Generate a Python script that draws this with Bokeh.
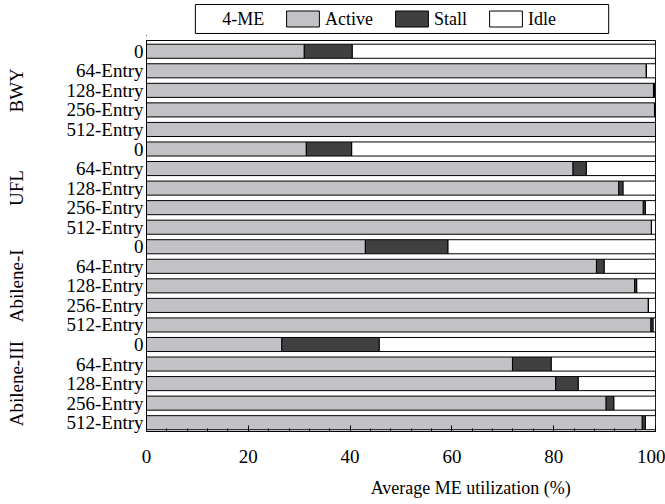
from bokeh.plotting import figure
from bokeh.models import (ColumnDataSource, Legend, LegendItem, LinearAxis,
                          SingleIntervalTicker, FixedTicker, Range1d)
from bokeh.layouts import column
from bokeh.core.properties import value
from bokeh.embed import file_html
from bokeh.resources import INLINE

groups = ["BWY", "UFL", "Abilene-I", "Abilene-III"]
configs = ["0", "64-Entry", "128-Entry", "256-Entry", "512-Entry"]

bwy_active = [31.0, 98.2, 99.6, 99.8, 100.0]
bwy_stall = [9.4, 0.0, 0.2, 0.2, 0.0]
ufl_active = [31.4, 83.8, 92.8, 97.6, 99.2]
ufl_stall = [8.9, 2.6, 0.8, 0.4, 0.0]
ab1_active = [43.0, 88.4, 95.9, 98.6, 99.1]
ab1_stall = [16.2, 1.5, 0.4, 0.0, 0.4]
ab3_active = [26.6, 71.9, 80.4, 90.3, 97.4]
ab3_stall = [19.1, 7.6, 4.4, 1.5, 0.6]

x_label = "Average ME utilization (%)"
legend_title = "4-ME"
series_names = ["Active", "Stall", "Idle"]

FONT = "Liberation Serif"
ACTIVE_C = "#c2c1c6"
STALL_C = "#404040"
IDLE_C = "#ffffff"

actives = [bwy_active, ufl_active, ab1_active, ab3_active]
stalls = [bwy_stall, ufl_stall, ab1_stall, ab3_stall]

n_rows = len(groups) * len(configs)
ys, a_r, s_l, s_r, labels = [], [], [], [], []
for gi in range(len(groups)):
    for ci in range(len(configs)):
        y = n_rows - 1 - (gi * len(configs) + ci)
        ys.append(y)
        a = actives[gi][ci]
        s = stalls[gi][ci]
        a_r.append(a)
        s_l.append(a)
        s_r.append(min(100.0, a + s))
        labels.append(configs[ci])

src = ColumnDataSource(dict(y=ys, zero=[0] * len(ys), a_r=a_r, s_l=s_l,
                            s_r=s_r, full=[100] * len(ys)))

LEFT_B = 146
RIGHT_B = 10

# ---------------- main chart ----------------
x_range = Range1d(0, 100)
p = figure(width=665, height=467, output_backend="svg", toolbar_location=None,
           x_range=x_range, y_range=Range1d(-0.45, n_rows - 0.45),
           min_border_left=LEFT_B, min_border_right=RIGHT_B,
           min_border_bottom=73, min_border_top=3)

BH = 0.72
r_idle = p.hbar(y="y", left="s_r", right="full", height=BH, source=src,
                fill_color=IDLE_C, line_color="black", line_width=1)
r_act = p.hbar(y="y", left="zero", right="a_r", height=BH, source=src,
               fill_color=ACTIVE_C, line_color="black", line_width=1)
r_stall = p.hbar(y="y", left="s_l", right="s_r", height=BH, source=src,
                 fill_color=STALL_C, line_color="black", line_width=1)

p.grid.visible = False
p.outline_line_color = "black"
p.outline_line_width = 1
p.background_fill_color = "white"
p.border_fill_color = "white"

xa = p.xaxis[0]
xa.ticker = SingleIntervalTicker(interval=20, num_minor_ticks=5)
xa.major_tick_in = 6
xa.major_tick_out = 0
xa.minor_tick_in = 3
xa.minor_tick_out = 0
xa.major_label_text_font = FONT
xa.major_label_text_font_size = "19px"
xa.major_label_text_color = "black"
xa.major_label_standoff = 18
xa.axis_line_color = "black"
xa.major_tick_line_color = "black"
xa.minor_tick_line_color = "black"

ya = p.yaxis[0]
ya.ticker = FixedTicker(ticks=ys)
ya.major_label_overrides = {y: l for y, l in zip(ys, labels)}
ya.major_tick_line_color = None
ya.minor_tick_line_color = None
ya.major_tick_in = 0
ya.major_tick_out = 0
ya.minor_tick_in = 0
ya.minor_tick_out = 0
ya.major_label_text_font = FONT
ya.major_label_text_font_size = "19px"
ya.major_label_text_color = "black"
ya.major_label_standoff = 3
ya.axis_line_color = "black"

# group labels as an outer left axis
group_centers = [n_rows - 1 - (gi * len(configs) + 2) for gi in range(len(groups))]
ga = LinearAxis(ticker=FixedTicker(ticks=group_centers),
                major_label_overrides={c: g for c, g in zip(group_centers, groups)},
                major_label_orientation="vertical")
ga.axis_line_color = None
ga.major_tick_line_color = None
ga.minor_tick_line_color = None
ga.major_tick_in = 0
ga.major_tick_out = 0
ga.minor_tick_in = 0
ga.minor_tick_out = 0
ga.major_label_text_font = FONT
ga.major_label_text_font_size = "19px"
ga.major_label_text_color = "black"
ga.major_label_standoff = 36
p.add_layout(ga, "left")

# x-axis title as an outer bottom axis, placed like the reference
label_pos = 63.7
la = LinearAxis(ticker=FixedTicker(ticks=[label_pos]),
                major_label_overrides={label_pos: x_label})
la.axis_line_color = None
la.major_tick_line_color = None
la.minor_tick_line_color = None
la.major_tick_in = 0
la.major_tick_out = 0
la.minor_tick_in = 0
la.minor_tick_out = 0
la.major_label_text_font = FONT
la.major_label_text_font_size = "18px"
la.major_label_text_color = "black"
la.major_label_standoff = 12
p.add_layout(la, "below")

# ---------------- legend strip ----------------
box_left, box_right = 9.6, 90.8      # legend frame, in axis units
title_x = 14.9
top = figure(width=665, height=37, output_backend="svg", toolbar_location=None,
             x_range=x_range, y_range=Range1d(-0.07, 1.07),
             x_axis_location=None, y_axis_location=None,
             min_border_left=LEFT_B, min_border_right=RIGHT_B,
             min_border_top=2, min_border_bottom=2)
top.grid.visible = False
top.outline_line_color = None
top.background_fill_color = "white"
top.border_fill_color = "white"

top.quad(left=[box_left], right=[box_right], bottom=[0], top=[1],
         fill_color="white", line_color="black", line_width=1)
top.text(x=[title_x], y=[0.5], text=[legend_title], text_font=value(FONT),
         text_font_size="18px", text_color="black", text_align="left",
         text_baseline="middle")

# legend swatch renderers (their single point lies far outside the strip)
dummy = ColumnDataSource(dict(y=[-50], left=[-300], right=[-290]))
l_act = top.hbar(y="y", left="left", right="right", height=0.1, source=dummy,
                 fill_color=ACTIVE_C, line_color="black", line_width=1)
l_stall = top.hbar(y="y", left="left", right="right", height=0.1, source=dummy,
                   fill_color=STALL_C, line_color="black", line_width=1)
l_idle = top.hbar(y="y", left="left", right="right", height=0.1, source=dummy,
                  fill_color=IDLE_C, line_color="black", line_width=1)

legend = Legend(items=[LegendItem(label=series_names[0], renderers=[l_act]),
                       LegendItem(label=series_names[1], renderers=[l_stall]),
                       LegendItem(label=series_names[2], renderers=[l_idle])],
                orientation="horizontal")
legend.label_text_font = FONT
legend.label_text_font_size = "18px"
legend.label_text_color = "black"
legend.glyph_width = 41
legend.glyph_height = 20
legend.label_standoff = 2
legend.spacing = 18
legend.padding = 0
legend.margin = 136
legend.border_line_color = None
legend.background_fill_alpha = 0
legend.location = "center_left"
top.add_layout(legend)

layout = column(top, p, spacing=0)
open("out.html", "w").write(file_html(layout, INLINE))
